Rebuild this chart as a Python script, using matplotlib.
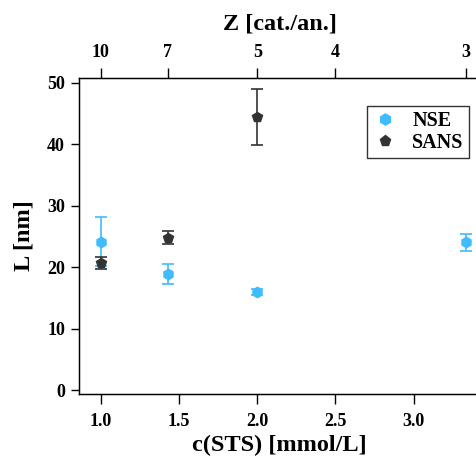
import numpy as np
from matplotlib import pyplot as plt

# NSE data
nse_c = [1.0, 10 / 7, 2.0, 10 / 3]
nse_L = [24.1, 18.9, 16.0, 24.0]
nse_err = [4.0, 1.65, 0.5, 1.4]

# SANS data
sans_c = [1.0, 10 / 7, 2.0]
sans_L = [20.7, 24.8, 44.45]
sans_err = [1.0, 1.1, 4.55]

z_ticks = [10, 7, 5, 4, 3]

BLUE = '#3fbcff'
DARK = '#333333'


def main():
    plt.rcParams['font.family'] = 'Liberation Serif'
    plt.rcParams['font.weight'] = 'bold'

    fig = plt.figure(figsize=(4.76, 4.59), dpi=100)
    ax = fig.add_axes([79 / 476, 65 / 459, 401 / 476, 316 / 459])

    ax.errorbar(nse_c, nse_L, yerr=nse_err, fmt='h', color=BLUE, ms=7.5,
                capsize=4, elinewidth=1.2, capthick=1.2, label='NSE', zorder=3)
    ax.errorbar(sans_c, sans_L, yerr=sans_err, fmt='p', color=DARK, ms=7.5,
                capsize=4, elinewidth=1.2, capthick=1.2, label='SANS', zorder=4)

    xlim = (0.861, 3.424)
    ax.set_xlim(*xlim)
    ax.set_ylim(-0.65, 50.76)
    ax.set_xticks([1.0, 1.5, 2.0, 2.5, 3.0])
    ax.set_yticks([0, 10, 20, 30, 40, 50])
    ax.tick_params(axis='x', direction='out', length=7, width=1, labelsize=13, pad=7)
    ax.tick_params(axis='y', direction='out', length=6, width=1, labelsize=13, pad=4)
    for s in ax.spines.values():
        s.set_linewidth(1)

    ax.set_xlabel('c(STS) [mmol/L]', fontsize=17.5, fontweight='bold', labelpad=3)
    ax.set_ylabel('L [nm]', fontsize=17.5, fontweight='bold', labelpad=9)

    top = ax.twiny()
    top.set_xlim(*xlim)
    top.set_xticks([10 / z for z in z_ticks])
    top.set_xticklabels([str(z) for z in z_ticks])
    top.tick_params(direction='out', length=7, width=1, labelsize=13, pad=5)
    top.set_xlabel('Z [cat./an.]', fontsize=17.5, fontweight='bold', labelpad=11)

    # legend markers only, no error bars
    h1, = ax.plot([], [], 'h', color=BLUE, ms=8)
    h2, = ax.plot([], [], 'p', color=DARK, ms=8)
    leg = ax.legend([h1, h2], ['NSE', 'SANS'], loc='upper left',
                    bbox_to_anchor=(288 / 401, 1 - 28 / 316), fontsize=14.5,
                    frameon=True, fancybox=False, edgecolor='black',
                    handletextpad=0.7, borderpad=0.25, labelspacing=0.1,
                    handlelength=1.3, borderaxespad=0)
    leg.get_frame().set_linewidth(1)

    fig.savefig('out.png', dpi=100)


if __name__ == '__main__':
    main()
